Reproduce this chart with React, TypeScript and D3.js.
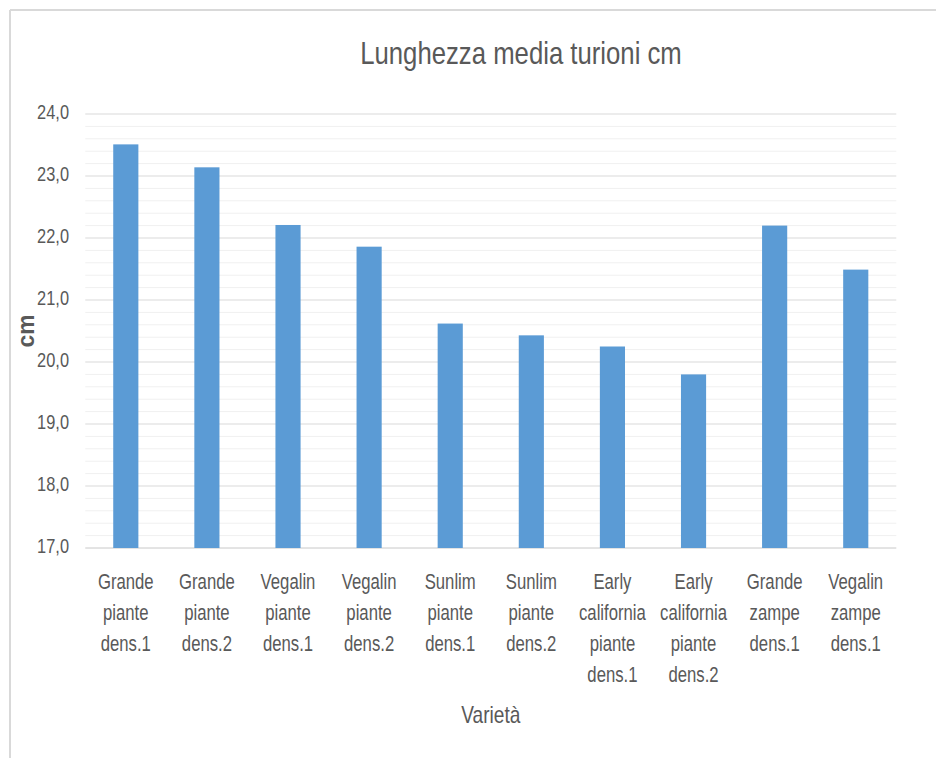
import React from "react";
import * as d3 from "d3";

const categories: string[] = [
  "Grande piante dens.1",
  "Grande piante dens.2",
  "Vegalin piante dens.1",
  "Vegalin piante dens.2",
  "Sunlim piante dens.1",
  "Sunlim piante dens.2",
  "Early california piante dens.1",
  "Early california piante dens.2",
  "Grande zampe dens.1",
  "Vegalin zampe dens.1",
];
const values: number[] = [23.51, 23.14, 22.21, 21.86, 20.62, 20.43, 20.25, 19.8, 22.2, 21.49];
const yTicks: number[] = [17, 18, 19, 20, 21, 22, 23, 24];
const title = "Lunghezza media turioni cm";
const xTitle = "Varietà";
const yTitle = "cm";

const W = 936;
const H = 758;
const FONT = "'Liberation Sans', Arial, sans-serif";
const TEXT = "#595959";

function T(props: {
  x: number;
  y: number;
  sx: number;
  size: number;
  anchor?: string;
  weight?: string;
  rotate?: number;
  children: React.ReactNode;
}) {
  const { x, y, sx, size, anchor = "middle", weight = "normal", rotate = 0, children } = props;
  return (
    <g transform={`translate(${x},${y}) rotate(${rotate}) scale(${sx},1)`}>
      <text x={0} y={0} textAnchor={anchor} fontFamily={FONT} fontSize={size} fontWeight={weight} fill={TEXT}>
        {children}
      </text>
    </g>
  );
}

export default function App() {
  const x = d3
    .scaleBand<string>()
    .domain(categories)
    .range([85.25, 896.3])
    .paddingInner(0.69)
    .paddingOuter(0.345);
  const y = d3.scaleLinear().domain([17, 24]).range([548, 114]);
  const minor = d3
    .range(0, 35)
    .map((i) => 17 + i * 0.2)
    .filter((v) => !yTicks.some((t) => Math.abs(t - v) < 1e-6));
  const fmt = (v: number) => v.toFixed(1).replace(".", ",");
  const [x0, x1] = x.range();

  return (
    <div style={{ position: "absolute", left: 0, top: 0 }}>
      <svg width={W} height={H} style={{ display: "block", background: "#fff" }}>
        <line x1={10} y1={10} x2={W} y2={10} stroke="#d9d9d9" strokeWidth={2} />
        <line x1={10} y1={10} x2={10} y2={H} stroke="#d9d9d9" strokeWidth={2} />
        <T x={521} y={64} sx={0.83} size={31}>
          {title}
        </T>
        {minor.map((v) => (
          <line key={"m" + v} x1={x0} x2={x1} y1={y(v)} y2={y(v)} stroke="#f0f0f0" strokeWidth={1} />
        ))}
        {yTicks.map((v) => (
          <line
            key={"g" + v}
            x1={x0}
            x2={x1}
            y1={y(v)}
            y2={y(v)}
            stroke={v === 17 ? "#c8c8c8" : "#d9d9d9"}
            strokeWidth={1}
          />
        ))}
        {yTicks.map((v) => (
          <T key={"t" + v} x={69} y={y(v) + 5} sx={0.78} size={21}>
            <tspan textAnchor="end">{fmt(v)}</tspan>
          </T>
        ))}
        {categories.map((c, i) => (
          <rect
            key={c}
            x={x(c)}
            y={y(values[i])}
            width={x.bandwidth()}
            height={y(17) - y(values[i])}
            fill="#5b9bd5"
          />
        ))}
        {categories.map((c) =>
          c.split(" ").map((w, j) => (
            <T key={"l" + c + j} x={(x(c) as number) + x.bandwidth() / 2} y={589 + j * 31} sx={0.76} size={22}>
              {w}
            </T>
          ))
        )}
        <T x={(x0 + x1) / 2} y={723} sx={0.83} size={23}>
          {xTitle}
        </T>
        <T x={34} y={(y(17) + y(24)) / 2} sx={0.95} size={24} weight="bold" rotate={-90}>
          {yTitle}
        </T>
      </svg>
    </div>
  );
}
